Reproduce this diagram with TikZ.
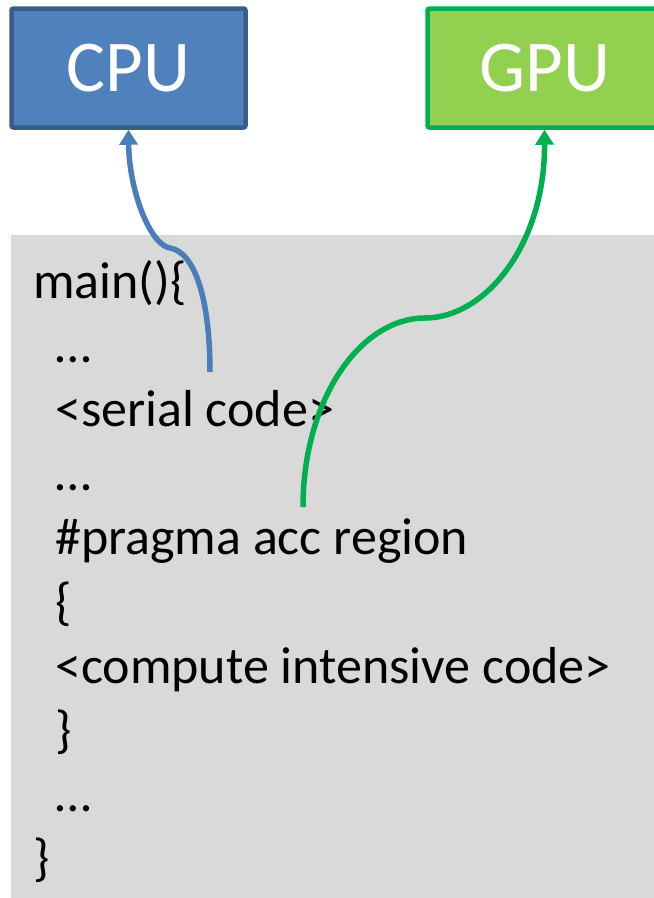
\documentclass[tikz,border=0pt]{standalone}
\usepackage{fontspec}
\setmainfont{Carlito}
\usetikzlibrary{arrows.meta}

\definecolor{cpufill}{HTML}{4F81BD}
\definecolor{cpuline}{HTML}{385D8A}
\definecolor{gpufill}{HTML}{92D050}
\definecolor{gpuline}{HTML}{00B050}
\definecolor{codebg}{HTML}{D9D9D9}
\definecolor{cpuarrowc}{HTML}{4A7EBB}

\tikzset{
  unitbox/.style={rectangle, rounded corners=2pt, line width=4.5pt,
    minimum width=234pt, minimum height=119pt, inner sep=0pt,
    text=white, font=\fontsize{73}{80}\selectfont},
  codeline/.style={anchor=base west, inner sep=0pt,
    font=\fontsize{52}{62}\selectfont},
  offload/.style={line width=5.5pt, -{Triangle[width=18pt,length=15pt]}},
}

\begin{document}
\begin{tikzpicture}[x=1pt, y=-1pt]
  \useasboundingbox (0,0) rectangle (654,898);
  \clip (0,0) rectangle (654,898);

  % code listing background
  \fill[codebg] (11,235) rectangle (660,900);

  % processors
  \node[unitbox, draw=cpuline, fill=cpufill] (cpu) at (128.5,68) {CPU};
  \node[unitbox, draw=gpuline, fill=gpufill] (gpu) at (544.5,68) {GPU};

  % program text
  \node[codeline] (l1)  at (33,298) {main()\{};
  \node[codeline] (l2)  at (55,362) {…};
  \node[codeline] (l3)  at (55,426) {<serial code>};
  \node[codeline] (l4)  at (55,490) {…};
  \node[codeline] (l5)  at (55,554) {\#pragma acc region};
  \node[codeline] (l6)  at (55,619) {\{};
  \node[codeline] (l7)  at (55,683) {<compute intensive code>};
  \node[codeline] (l8)  at (55,747) {\}};
  \node[codeline] (l9)  at (55,811) {…};
  \node[codeline] (l10) at (33,875) {\}};

  % where each part of the program runs
  \coordinate (serialstart) at (210,372);
  \coordinate (accstart) at (303,507);

  \draw[offload, cpuarrowc] (serialstart)
    .. controls (210,300) and (195,252) .. (170,248)
    .. controls (150,245) and (129,190) .. (cpu.south);
  \draw[offload, gpuline] (accstart)
    .. controls (303,400) and (360,318) .. (425,318)
    .. controls (485,318) and (545,245) .. (gpu.south);
\end{tikzpicture}
\end{document}
